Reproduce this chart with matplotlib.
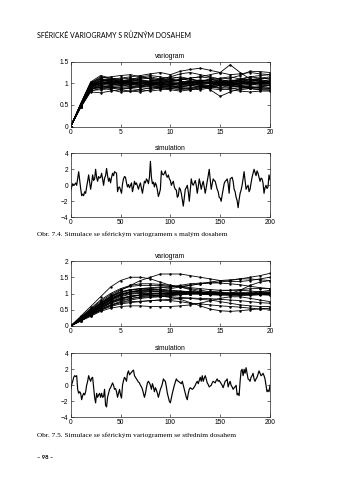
import numpy as np
import matplotlib
matplotlib.use("Agg")
import matplotlib.pyplot as plt
from matplotlib.ticker import FuncFormatter, FixedLocator

# Experimental variograms of simulations with a short range (lags 0..20)
lags = list(range(21))
vario_short = [
    [0, .50, .95, 1.05, 1.10, 1.12, 1.15, 1.18, 1.22, 1.25, 1.20, 1.28, 1.32, 1.35, 1.30, 1.25, 1.20, 1.22, 1.25, 1.22, 1.20],
    [0, .48, .90, 1.00, 1.05, 1.00, 1.08, 1.12, 1.15, 1.10, 1.05, 1.10, 1.12, 1.15, 1.20, 1.25, 1.43, 1.25, 1.10, 1.05, 1.00],
    [0, .52, 1.00, 1.15, 1.10, 1.05, 1.00, .98, 1.05, 1.10, 1.15, 1.12, 1.05, 1.00, .85, .70, .80, .88, .92, .90, .88],
    [0, .45, .85, .95, .90, .92, .98, 1.02, 1.05, 1.10, 1.15, 1.22, 1.25, 1.20, 1.15, 1.10, 1.12, 1.18, 1.28, 1.27, 1.25],
    [0, .50, .98, 1.10, 1.08, 1.05, 1.00, .95, .98, 1.02, 1.00, .98, 1.00, 1.05, 1.00, .95, .98, 1.00, 1.05, 1.02, 1.00],
    [0, .47, .88, .90, .85, .80, .82, .85, .90, .88, .85, .82, .85, .90, .92, .88, .85, .82, .80, .82, .82],
    [0, .50, .95, 1.00, 1.02, 1.05, 1.03, 1.00, .98, .95, .97, 1.00, 1.02, .98, .95, .98, 1.00, 1.02, 1.00, .98, 1.00],
    [0, .52, 1.02, 1.12, 1.15, 1.18, 1.20, 1.15, 1.10, 1.05, 1.10, 1.15, 1.10, 1.05, 1.08, 1.12, 1.15, 1.10, 1.08, 1.12, 1.15],
    [0, .46, .86, .92, .95, .98, .95, .90, .88, .92, .95, .90, .88, .85, .90, .95, .98, .95, .92, .90, .88],
    [0, .50, .96, 1.05, 1.00, .98, 1.02, 1.05, 1.00, .95, .92, .95, 1.00, 1.02, 1.05, 1.00, .95, .92, .95, 1.00, 1.05],
    [0, .44, .82, .88, .92, .95, .97, 1.00, 1.03, 1.00, .97, 1.00, 1.05, 1.08, 1.05, 1.00, 1.03, 1.08, 1.10, 1.08, 1.05],
    [0, .49, .92, 1.00, .98, .95, .92, .95, .97, 1.00, 1.02, .98, .95, .92, .95, 1.00, 1.02, 1.00, .98, .95, .95],
    [0, .51, .97, 1.08, 1.05, 1.02, 1.05, 1.10, 1.12, 1.08, 1.05, 1.02, 1.00, 1.05, 1.10, 1.05, 1.00, .98, 1.00, 1.05, 1.08],
    [0, .48, .90, .95, .92, .88, .90, .92, .95, .98, .95, .90, .85, .88, .92, .95, .90, .85, .88, .92, .95],
    [0, .50, .94, 1.02, 1.05, 1.02, 1.00, 1.02, 1.05, 1.08, 1.10, 1.05, 1.02, 1.00, 1.02, 1.05, 1.02, 1.00, 1.02, 1.00, 1.02],
    [0, .53, 1.03, 1.18, 1.12, 1.08, 1.05, 1.00, .95, .90, .88, .92, .95, 1.00, 1.02, .98, .95, 1.00, 1.05, 1.10, 1.12],
    [0, .45, .84, .85, .88, .90, .88, .85, .82, .85, .88, .92, .95, .92, .88, .85, .88, .90, .88, .85, .85],
    [0, .50, .95, 1.02, 1.00, 1.02, 1.05, 1.08, 1.05, 1.02, 1.00, .98, 1.00, 1.02, 1.00, .98, 1.02, 1.05, 1.02, 1.00, 1.00],
    [0, .49, .93, .98, 1.00, 1.02, 1.00, .98, 1.00, 1.02, 1.05, 1.08, 1.10, 1.05, 1.00, 1.02, 1.05, 1.08, 1.15, 1.18, 1.20],
    [0, .51, .98, 1.05, 1.08, 1.10, 1.12, 1.08, 1.02, .98, .95, .92, .95, .98, 1.00, 1.02, 1.00, .95, .90, .92, .95],
    [0, .47, .89, .92, .90, .85, .82, .80, .85, .90, .95, 1.00, .98, .95, .92, .90, .92, .95, .98, 1.00, .98],
    [0, .50, .96, 1.00, 1.03, 1.05, 1.02, 1.00, 1.02, 1.05, 1.02, 1.00, 1.02, 1.05, 1.08, 1.05, 1.02, 1.05, 1.08, 1.05, 1.03],
    [0, .48, .91, .96, 1.00, 1.03, 1.08, 1.15, 1.18, 1.15, 1.10, 1.05, 1.00, .95, .92, .95, 1.00, 1.05, 1.08, 1.05, 1.00],
    [0, .52, 1.00, 1.10, 1.05, 1.00, .97, .95, .92, .90, .88, .85, .88, .92, .95, .98, .95, .92, .88, .85, .84],
    [0, .46, .87, .90, .95, 1.00, .98, .95, .98, 1.00, .98, .95, .97, 1.00, 1.02, 1.05, 1.08, 1.05, 1.02, .98, .96],
    [0, .50, .95, 1.00, .97, 1.00, 1.02, 1.00, .97, .95, .98, 1.02, 1.05, 1.02, 1.00, .97, .95, .98, 1.00, 1.02, 1.03],
    [0, .44, .80, .78, .82, .85, .90, .92, .95, .92, .90, .88, .90, .92, .95, .97, .95, .92, .90, .88, .90],
    [0, .51, .97, 1.05, 1.08, 1.05, 1.10, 1.05, 1.00, 1.02, 1.05, 1.08, 1.12, 1.15, 1.12, 1.08, 1.05, 1.10, 1.15, 1.12, 1.10],
]

# Experimental variograms of simulations with a medium range
vario_medium = [
    [0, .30, .60, .90, 1.20, 1.40, 1.50, 1.50, 1.45, 1.35, 1.25, 1.20, 1.12, 1.05, 1.00, .98, 1.00, 1.10, 1.25, 1.35, 1.40],
    [0, .22, .45, .70, .90, 1.10, 1.25, 1.40, 1.50, 1.60, 1.60, 1.60, 1.55, 1.50, 1.45, 1.40, 1.37, 1.37, 1.40, 1.45, 1.50],
    [0, .20, .42, .62, .80, .95, 1.05, 1.10, 1.10, 1.12, 1.15, 1.20, 1.25, 1.30, 1.32, 1.35, 1.40, 1.45, 1.50, 1.55, 1.62],
    [0, .20, .40, .58, .75, .85, .90, .95, .95, .92, .88, .82, .72, .62, .52, .47, .45, .47, .50, .53, .55],
    [0, .15, .30, .45, .55, .60, .62, .62, .60, .60, .60, .62, .65, .70, .78, .85, .90, .90, .85, .80, .75],
    [0, .17, .35, .52, .65, .72, .75, .76, .78, .80, .82, .85, .85, .82, .80, .75, .70, .65, .62, .60, .60],
    [0, .16, .32, .48, .60, .68, .72, .75, .78, .80, .78, .75, .70, .68, .65, .62, .60, .58, .55, .52, .52],
    [0, .25, .50, .72, .92, 1.05, 1.12, 1.15, 1.15, 1.18, 1.20, 1.25, 1.30, 1.32, 1.33, 1.32, 1.30, 1.27, 1.22, 1.18, 1.15],
    [0, .26, .52, .76, .96, 1.12, 1.22, 1.25, 1.25, 1.25, 1.22, 1.20, 1.15, 1.10, 1.05, 1.00, .98, .98, 1.00, 1.05, 1.10],
    [0, .20, .40, .60, .78, .90, .98, 1.00, 1.00, 1.00, 1.00, 1.02, 1.02, 1.00, .98, .98, 1.00, 1.00, 1.02, 1.00, 1.00],
    [0, .23, .46, .68, .86, .98, 1.02, 1.02, 1.00, .98, .97, .98, 1.00, 1.02, 1.03, 1.02, 1.00, .98, .97, .98, 1.00],
    [0, .18, .36, .54, .70, .82, .90, .95, .98, 1.00, 1.02, 1.03, 1.02, 1.00, .98, .97, .97, .98, 1.00, 1.02, 1.03],
    [0, .21, .42, .63, .82, .96, 1.05, 1.08, 1.08, 1.06, 1.04, 1.02, 1.00, .98, .96, .95, .95, .96, .98, 1.00, .98],
    [0, .19, .38, .56, .72, .84, .92, .96, .98, .99, 1.00, 1.00, .99, .98, .97, .96, .96, .97, .98, .99, .97],
    [0, .24, .48, .70, .90, 1.04, 1.12, 1.14, 1.12, 1.10, 1.08, 1.06, 1.05, 1.04, 1.02, 1.00, .98, .96, .95, .96, .95],
    [0, .17, .34, .50, .64, .76, .84, .90, .93, .95, .97, .98, .99, 1.00, 1.00, 1.01, 1.02, 1.03, 1.04, 1.05, 1.05],
    [0, .22, .44, .65, .84, .98, 1.06, 1.10, 1.12, 1.12, 1.10, 1.08, 1.05, 1.03, 1.00, .98, .95, .94, .95, .97, 1.00],
    [0, .16, .33, .49, .62, .72, .80, .85, .88, .90, .93, .96, .98, 1.00, 1.02, 1.03, 1.02, 1.00, .99, .98, .98],
    [0, .20, .41, .61, .80, .93, 1.00, 1.03, 1.05, 1.05, 1.04, 1.03, 1.02, 1.01, 1.00, .99, .98, .98, .99, 1.00, 1.01],
    [0, .27, .54, .80, 1.00, 1.15, 1.25, 1.30, 1.30, 1.28, 1.25, 1.22, 1.18, 1.15, 1.12, 1.10, 1.10, 1.12, 1.15, 1.15, 1.15],
    [0, .18, .37, .55, .70, .80, .85, .88, .90, .92, .95, .98, 1.00, 1.02, 1.05, 1.08, 1.10, 1.10, 1.08, 1.05, 1.02],
    [0, .21, .43, .64, .83, .97, 1.05, 1.07, 1.06, 1.05, 1.05, 1.06, 1.06, 1.05, 1.04, 1.02, 1.00, .99, .98, .97, .96],
    [0, .19, .38, .57, .74, .86, .92, .95, .95, .93, .90, .88, .86, .85, .84, .82, .80, .78, .75, .72, .70],
    [0, .23, .46, .68, .88, 1.02, 1.10, 1.15, 1.18, 1.20, 1.20, 1.22, 1.25, 1.30, 1.35, 1.40, 1.42, 1.45, 1.45, 1.42, 1.40],
]

# One simulated realization, short range (positions 0..200)
sim_short = [
    -0.6, -0.2, 0.2, 0.0, 0.1, 0.3, 0.0, 0.9, 1.7, 0.6,
    -0.4, -1.3, -1.1, -1.3, -0.8, -1.0, -0.2, 0.5, 1.3, 0.4,
    -0.5, 0.3, 1.3, 0.6, 0.8, 2.0, 1.0, 0.5, 1.1, 0.9,
    1.0, 1.5, 0.8, 0.0, 0.9, 1.2, 2.1, 1.2, 0.5, 0.9,
    0.3, 1.0, 1.5, 1.2, 1.7, 1.6, 1.5, -0.8, -0.3, -0.2,
    -0.6, -1.0, 0.2, 0.8, 1.1, 1.0, 0.3, -0.2, 0.1, -0.3,
    0.0, 0.3, -0.8, -0.2, 0.5, 0.1, 0.3, -0.1, -0.5, 0.0,
    0.3, -0.4, -1.0, -0.2, 0.5, 0.3, 0.8, 0.6, 0.2, 1.0,
    3.0, 1.0, 0.2, 0.4, -0.2, 0.3, 0.0, -0.6, -1.4, -1.0,
    -0.5, 1.8, 1.4, 1.3, 1.5, 1.8, 1.2, 1.0, 1.3, 0.8,
    0.6, 0.0, 0.3, 0.5, -0.2, -0.5, -0.6, -1.5, -1.3, -0.3,
    -0.5, -1.0, -1.8, -2.6, -1.5, -0.5, -0.3, 0.0, -0.8, -2.0,
    -0.6, 0.8, 0.2, 0.0, 0.3, 0.6, 0.0, -1.0, -0.2, 0.8,
    0.2, -0.5, 0.1, 0.5, -0.2, -1.0, -0.3, 0.5, 1.2, 2.0,
    0.8, -0.5, 0.2, 0.8, 0.6, 0.5, 0.0, -0.5, -0.8, -1.5,
    -1.6, -2.0, -1.2, -0.5, 0.2, 0.5, 0.6, 0.8, 0.2, -1.0,
    0.8, 0.9, 1.0, 0.5, -0.5, -0.8, -1.5, -1.9, -2.8, -1.8,
    -1.0, -0.6, 0.0, 0.8, 1.7, 0.6, -0.5, -0.2, 0.0, -0.8,
    -0.5, 0.3, 1.0, 1.5, 2.0, 1.6, 1.2, 1.8, 1.5, 1.0,
    0.5, 0.9, 0.8, 0.3, -1.0, -0.3, 0.0, -0.4, -0.2, 1.3,
    0.7,
]

# One simulated realization, medium range
sim_medium = [
    -0.5, 0.1, 0.5, 1.0, 1.2, 1.1, 1.2, -0.5, -1.0, -0.8,
    -1.0, -1.8, -1.3, -1.0, -1.2, -0.8, 0.0, 0.5, 1.2, 0.8,
    0.5, 0.9, 1.0, -0.3, -1.5, -2.2, -1.0, -1.5, -1.2, -1.0,
    -1.5, -1.0, -1.5, -1.4, -0.5, -2.5, -2.7, -1.5, -1.0, -0.5,
    -0.3, 0.0, 0.3, 0.0, -0.5, -0.4, -0.8, -1.5, -1.0, -0.5,
    -1.2, -1.6, 0.0, 0.6, 1.0, 0.8, 0.5, 1.5, 1.8, 1.3,
    1.5, 1.6, 1.8, 1.9, 1.2, 1.0, 0.8, 0.6, 0.4, 0.3,
    0.0, -0.2, -0.5, -1.0, -1.5, -1.0, -0.3, 0.3, 0.5, 0.3,
    0.0, -0.5, 0.2, -0.2, -0.8, -0.3, -0.6, -1.0, -1.5, -1.0,
    -0.5, -0.2, 0.2, 0.8, 0.6, 0.5, -0.2, -1.0, -1.5, -2.0,
    -2.2, -1.6, -1.0, -0.5, 0.0, 0.4, 0.8, 0.6, 0.5, 0.4,
    0.3, 0.2, 0.5, 0.0, -0.5, -1.0, -1.5, -1.8, -1.0, -0.5,
    -0.3, -0.4, -0.5, -0.4, -0.2, 0.0, 0.3, 0.5, 0.2, 0.6,
    1.0, 0.5, 1.2, 0.5, 0.9, 1.2, 0.8, 0.3, 0.1, -0.2,
    -0.1, 0.0, 0.3, 0.5, 0.4, 0.3, 0.6, 0.8, 0.5, 0.6,
    0.4, 0.2, 0.0, -0.3, 0.1, 0.5, 0.6, 0.8, -0.2, 0.2,
    0.5, 0.0, -0.2, -0.5, -0.3, -0.2, 0.0, -1.2, -1.0, -1.3,
    0.5, 1.8, 2.0, 1.2, 2.0, 1.5, 2.2, 1.5, 0.8, 0.7,
    0.5, 1.0, 1.2, 1.5, 0.8, 0.5, 0.8, 1.0, 1.4, 1.8,
    1.5, 1.2, 1.3, 1.5, 1.2, 0.8, 0.0, -0.8, -0.6, -0.8,
    0.0,
]
positions = list(range(len(sim_short)))

header = "SFÉRICKÉ VARIOGRAMY S RŮZNÝM DOSAHEM"
caption_short = "Obr. 7.4. Simulace se sférickým variogramem s malým dosahem"
caption_medium = "Obr. 7.5. Simulace se sférickým variogramem se středním dosahem"
page_number = "– 98 –"

W, H = 341, 480
fig = plt.figure(figsize=(W / 100, H / 100), dpi=100)
fig.patch.set_facecolor("white")

TICK_FONT = "Liberation Sans"


def fmt(v, _pos=None):
    if abs(v - round(v)) < 1e-9:
        s = "%d" % round(v)
    else:
        s = ("%g" % v)
    return s.replace("-", "\u2212")


def axes_px(left, top, right, bottom):
    return fig.add_axes([left / W, 1 - bottom / H, (right - left) / W, (bottom - top) / H])


def style(ax, title, xticks, yticks, xlim, ylim):
    ax.set_xlim(*xlim)
    ax.set_ylim(*ylim)
    ax.xaxis.set_major_locator(FixedLocator(xticks))
    ax.yaxis.set_major_locator(FixedLocator(yticks))
    ax.xaxis.set_major_formatter(FuncFormatter(fmt))
    ax.yaxis.set_major_formatter(FuncFormatter(fmt))
    ax.tick_params(direction="in", length=2, width=0.4, top=True, right=True,
                   labelsize=4.8, pad=1.5, colors="black")
    for lab in ax.get_xticklabels() + ax.get_yticklabels():
        lab.set_fontfamily(TICK_FONT)
    for sp in ax.spines.values():
        sp.set_linewidth(0.5)
        sp.set_color("#222222")
    ax.set_title(title, fontsize=4.9, family=TICK_FONT, pad=2.5, color="black")


L, R = 70.7, 270.0

ax1 = axes_px(L, 61.7, R, 126.5)
for curve in vario_short:
    ax1.plot(lags, curve, color="black", lw=0.6, marker=".", ms=1.5)
style(ax1, "variogram", [0, 5, 10, 15, 20], [0, 0.5, 1, 1.5], (0, 20), (0, 1.5))

ax2 = axes_px(L, 153.3, R, 217.3)
ax2.plot(positions, sim_short, color="black", lw=0.85)
style(ax2, "simulation", [0, 50, 100, 150, 200], [-4, -2, 0, 2, 4], (0, 200), (-4, 4))

ax3 = axes_px(L, 261.0, R, 326.0)
for curve in vario_medium:
    ax3.plot(lags, curve, color="black", lw=0.6, marker=".", ms=1.5)
style(ax3, "variogram", [0, 5, 10, 15, 20], [0, 0.5, 1, 1.5, 2], (0, 20), (0, 2))

ax4 = axes_px(L, 353.3, R, 417.3)
ax4.plot(positions, sim_medium, color="black", lw=0.85)
style(ax4, "simulation", [0, 50, 100, 150, 200], [-4, -2, 0, 2, 4], (0, 200), (-4, 4))

fig.text(37 / W, 1 - 35 / H, header, fontsize=5.0, family="Lato",
         va="center", ha="left", color="black")
fig.text(37 / W, 1 - 234.5 / H, caption_short, fontsize=5.2, family="Liberation Serif",
         va="center", ha="left", color="black")
fig.text(37 / W, 1 - 435 / H, caption_medium, fontsize=5.2, family="Liberation Serif",
         va="center", ha="left", color="black")
fig.text(37 / W, 1 - 457.5 / H, page_number, fontsize=4.2, family="Lato", weight="bold",
         va="center", ha="left", color="black")

fig.savefig("out.png", dpi=100, facecolor="white")
